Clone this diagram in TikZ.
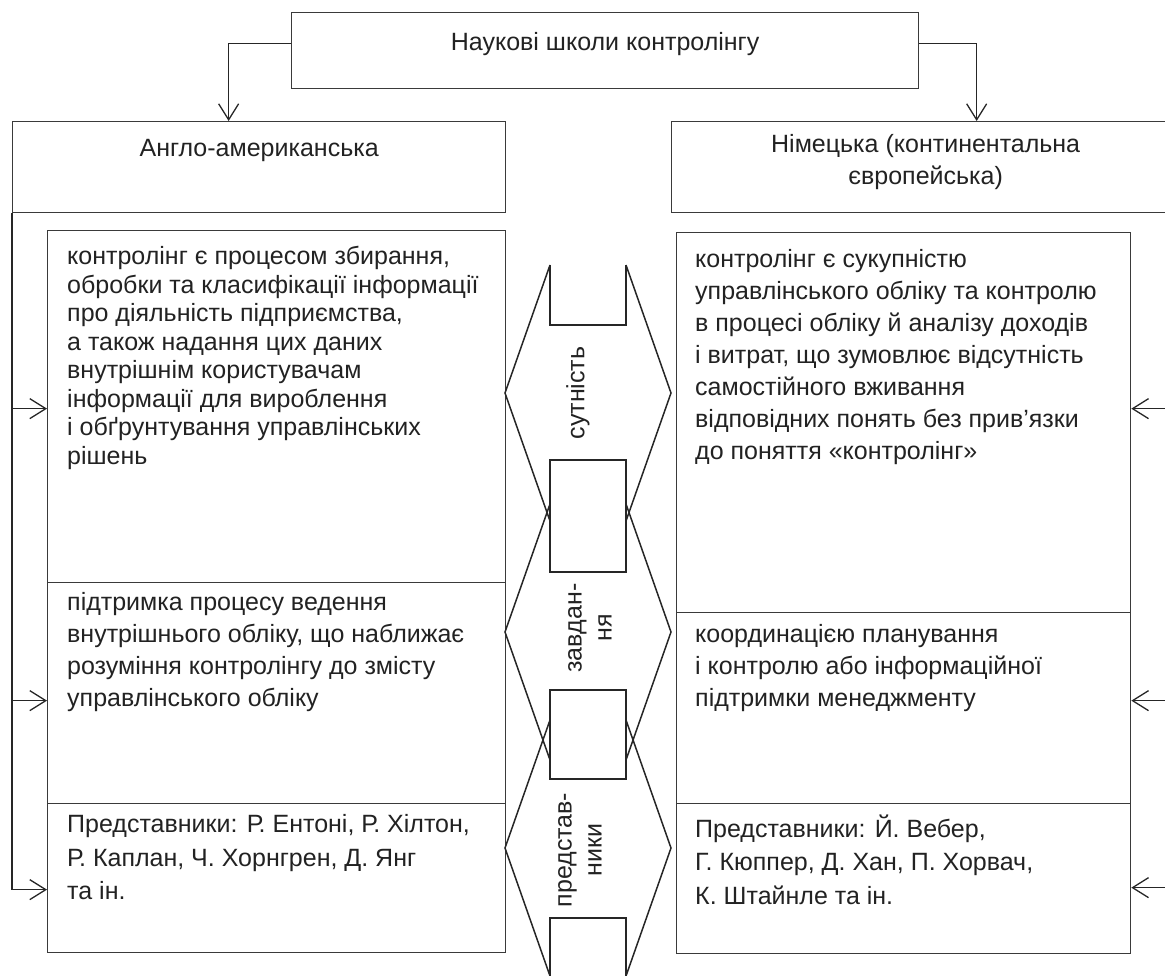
\documentclass[tikz,border=0pt]{standalone}
\usepackage{fontspec}
\setmainfont{Liberation Sans}
\usetikzlibrary{arrows.meta,positioning}

\definecolor{inkgray}{HTML}{222222}
\definecolor{linegray}{HTML}{3A3A3A}

\tikzset{
  box/.style={draw=linegray, line width=1.3pt, rectangle, inner sep=0pt, anchor=north west},
  boxtext/.style={inner sep=0pt, anchor=north west, align=left, text=inkgray,
    font=\fontsize{25}{32}\selectfont, execute at begin node=\strut},
  tighttext/.style={boxtext, font=\fontsize{25}{28.5}\selectfont},
  widetext/.style={boxtext, font=\fontsize{25}{33.5}\selectfont},
  headtext/.style={inner sep=0pt, anchor=north, align=center, text=inkgray,
    font=\fontsize{25}{32}\selectfont, execute at begin node=\strut},
  sidetext/.style={inner sep=0pt, align=center, rotate=90, text=inkgray,
    font=\fontsize{25}{30}\selectfont},
  link/.style={draw=black!85, line width=1.6pt,
    -{Straight Barb[length=16pt,width=20pt,line width=1.3pt]}},
  band/.style={draw=black!85, line width=1.5pt, line join=miter}
}

\begin{document}
\begin{tikzpicture}[x=1pt, y=-1pt]

  % Page frame
  \useasboundingbox (0,0) rectangle (1165,976);
  \clip (0,0) rectangle (1165,976);

  %%%%%%%%%%%%%%%%%%%%%%%%%%%%%%%%%%%%%%%%%%%%%%%%%%%%%%%%%%%%%%%%%%%%%%%%%%%%5
  %% Top box and the two schools
  %%%%%%%%%%%%%%%%%%%%%%%%%%%%%%%%%%%%%%%%%%%%%%%%%%%%%%%%%%%%%%%%%%%%%%%%%%%%5

  \node [box, minimum width=627pt, minimum height=76pt] (top) at (291,12) {};
  \node [headtext] (toptxt) at ([yshift=-15.6pt]top.north) {Наукові школи контролінгу};

  \node [box, minimum width=493pt, minimum height=91pt] (ang) at (12,121) {};
  \node [headtext] (angtxt) at ([yshift=-13pt]ang.north) {Англо-американська};

  \node [box, minimum width=508pt, minimum height=91pt] (nem) at (671,121) {};
  \node [headtext] (nemtxt) at ([yshift=-13pt]nem.north) {Німецька (континентальна\\європейська)};

  % Arrows from the top box
  \draw [link] ([yshift=7pt]top.west) -| ([xshift=-30.5pt]ang.north);
  \draw [link] ([yshift=7pt]top.east) -| ([xshift=51pt]nem.north);

  %%%%%%%%%%%%%%%%%%%%%%%%%%%%%%%%%%%%%%%%%%%%%%%%%%%%%%%%%%%%%%%%%%%%%%%%%%%%5
  %% Content boxes, left and right column
  %%%%%%%%%%%%%%%%%%%%%%%%%%%%%%%%%%%%%%%%%%%%%%%%%%%%%%%%%%%%%%%%%%%%%%%%%%%%5

  % Left column
  \foreach \name/\ya/\yb in {ang1/230/582, ang2/582/803, ang3/803/952}
    \node [box, minimum width=458pt, minimum height={(\yb-\ya)*1pt}] (\name) at (47,\ya) {};

  % Right column
  \foreach \name/\ya/\yb in {nem1/232/612, nem2/612/803, nem3/803/953}
    \node [box, minimum width=454pt, minimum height={(\yb-\ya)*1pt}] (\name) at (676,\ya) {};

  \node [tighttext] (ang1txt) at ([xshift=20pt,yshift=-16pt]ang1.north west)
    {контролінг є процесом збирання,\\обробки та класифікації інформації\\про діяльність підприємства,\\а також надання цих даних\\внутрішнім користувачам\\інформації для вироблення\\і обґрунтування управлінських\\рішень};
  \node [boxtext] (ang2txt) at ([xshift=20pt,yshift=-10pt]ang2.north west)
    {підтримка процесу ведення\\внутрішнього обліку, що наближає\\розуміння контролінгу до змісту\\управлінського обліку};
  \node [widetext] (ang3txt) at ([xshift=20pt,yshift=-11.5pt]ang3.north west)
    {Представники: Р. Ентоні, Р. Хілтон,\\Р. Каплан, Ч. Хорнгрен, Д. Янг\\та ін.};

  \node [boxtext] (nem1txt) at ([xshift=19pt,yshift=-17pt]nem1.north west)
    {контролінг є сукупністю\\управлінського обліку та контролю\\в процесі обліку й аналізу доходів\\і витрат, що зумовлює відсутність\\самостійного вживання\\відповідних понять без прив’язки\\до поняття «контролінг»};
  \node [boxtext] (nem2txt) at ([xshift=19pt,yshift=-12pt]nem2.north west)
    {координацією планування\\і контролю або інформаційної\\підтримки менеджменту};
  \node [widetext] (nem3txt) at ([xshift=19pt,yshift=-11.5pt]nem3.north west)
    {Представники: Й. Вебер,\\Г. Кюппер, Д. Хан, П. Хорвач,\\К. Штайнле та ін.};

  % Side connectors
  \foreach \b/\s in {ang1/-2, ang2/-7.5, ang3/-11.5}
    \draw [link] (ang.south west) |- ([yshift=\s pt]\b.west);

  \foreach \b/\s in {nem1/14, nem2/7.5, nem3/-9}
    \draw [link] (nem.south east) |- ([yshift=\s pt]\b.east);

  %%%%%%%%%%%%%%%%%%%%%%%%%%%%%%%%%%%%%%%%%%%%%%%%%%%%%%%%%%%%%%%%%%%%%%%%%%%%5
  %% Middle band with the double arrows
  %%%%%%%%%%%%%%%%%%%%%%%%%%%%%%%%%%%%%%%%%%%%%%%%%%%%%%%%%%%%%%%%%%%%%%%%%%%%5

  % Arrow heads: centre line, half height 128
  \foreach \yc in {393,632,848}
  {
    \draw [band] (550,\yc-128) -- (505,\yc) -- (550,\yc+128);
    \draw [band] (626,\yc-128) -- (671,\yc) -- (626,\yc+128);
  }

  % Joints between the arrows
  \foreach \ya/\yb in {460/572, 690/779}
    \filldraw [band, fill=white] (550,\ya) rectangle (626,\yb);

  % Notches at both ends
  \draw [band] (550,265) -- (550,325) -- (626,325) -- (626,265);
  \draw [band] (550,976) -- (550,918) -- (626,918) -- (626,976);

  \node [sidetext] (ess)  at (578,393) {сутність};
  \node [sidetext] (task) at (590,628) {завдан-\\ня};
  \node [sidetext] (repr) at (580,850) {представ-\\ники};

\end{tikzpicture}
\end{document}
